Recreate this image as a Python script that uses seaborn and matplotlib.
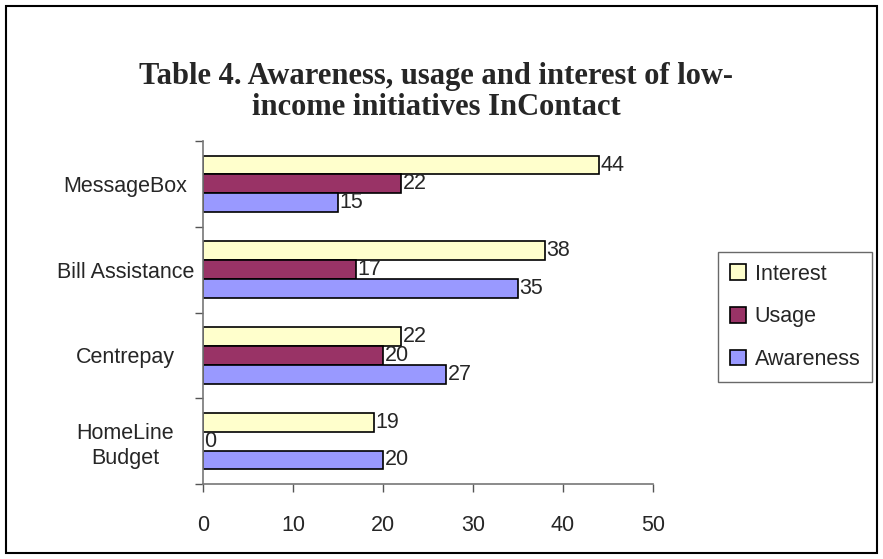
import matplotlib
matplotlib.use("Agg")
import matplotlib.pyplot as plt
from matplotlib.patches import Rectangle, Patch
import pandas as pd
import seaborn as sns

# data
categories = ["MessageBox", "Bill Assistance", "Centrepay", "HomeLine\nBudget"]
series = ["Interest", "Usage", "Awareness"]
interest = [44, 38, 22, 19]
usage = [22, 17, 20, 0]
awareness = [15, 35, 27, 20]
x_ticks = [0, 10, 20, 30, 40, 50]

colors = {"Interest": "#FFFFCC", "Usage": "#993366", "Awareness": "#9999FF"}

df = pd.DataFrame({
    "category": categories * 3,
    "series": ["Interest"] * 4 + ["Usage"] * 4 + ["Awareness"] * 4,
    "value": interest + usage + awareness,
})

sns.set_style("white")
plt.rcParams["font.family"] = ["Liberation Sans", "DejaVu Sans"]
fs = 15.5

fig = plt.figure(figsize=(8.83, 5.59), dpi=100)
ax = fig.add_axes([203 / 883, 1 - 484 / 559, 450 / 883, 343 / 559])

sns.barplot(data=df, y="category", x="value", hue="series", order=categories,
            hue_order=series, palette=colors, orient="h", width=0.66,
            edgecolor="black", linewidth=1.2, saturation=1, legend=False, ax=ax)

for cont in ax.containers:
    ax.bar_label(cont, fontsize=fs, padding=1)

ax.set_xlim(0, 50)
ax.set_ylim(3.5, -0.5)
ax.set_xticks(x_ticks)
ax.set_xlabel("")
ax.set_ylabel("")
ax.tick_params(axis="x", labelsize=fs, length=6, width=1, color="#555555", pad=16, direction="out", bottom=True)
ax.set_yticks(range(len(categories)))
ax.set_yticklabels(categories, fontsize=fs, ha="center", linespacing=1.3)
ax.tick_params(axis="y", which="major", length=0, pad=56)
ax.set_yticks([-0.5, 0.5, 1.5, 2.5, 3.5], minor=True)
ax.tick_params(axis="y", which="minor", length=6, width=1, color="#555555", left=True)
for s in ["top", "right"]:
    ax.spines[s].set_visible(False)
for s in ["left", "bottom"]:
    ax.spines[s].set_color("#777777")
    ax.spines[s].set_linewidth(1.2)

fig.text(0.494, 1 - 62 / 559, "Table 4. Awareness, usage and interest of low-\nincome initiatives InContact",
         ha="center", va="top", fontsize=22, fontweight="bold",
         family=["Liberation Serif", "DejaVu Serif"], linespacing=1.1)

handles = [Patch(facecolor=colors[s], edgecolor="black", linewidth=1.2, label=s) for s in series]
leg = fig.legend(handles=handles, loc="upper left", bbox_to_anchor=(718 / 883, 1 - 252 / 559),
                 fontsize=fs, frameon=True, fancybox=False, shadow=False,
                 labelspacing=1.0, handlelength=0.75, handleheight=0.75, handletextpad=0.4,
                 borderpad=0.55, borderaxespad=0)
leg.get_frame().set_edgecolor("#444444")
leg.get_frame().set_linewidth(1)

fig.patches.append(Rectangle((6 / 883, 6 / 559), 871 / 883, 547 / 559, transform=fig.transFigure,
                             fill=False, edgecolor="black", linewidth=1.5))

fig.savefig("out.png", dpi=100)
